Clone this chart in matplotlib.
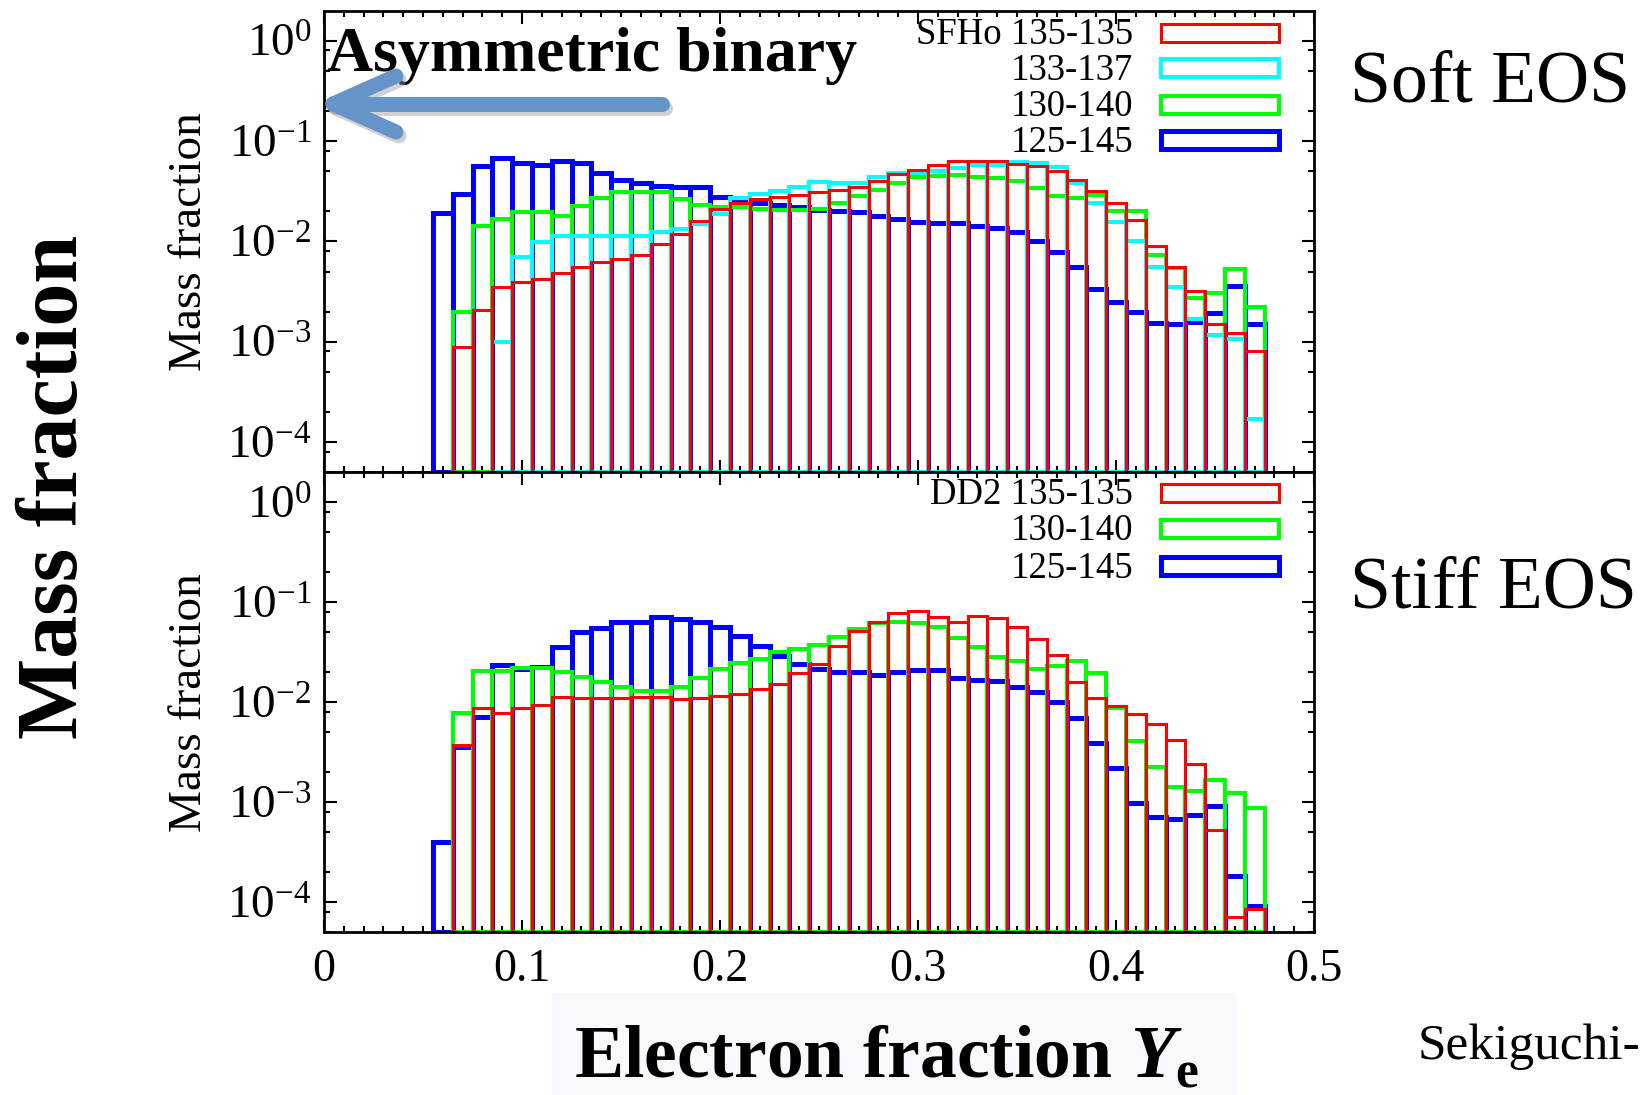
import matplotlib
matplotlib.use("Agg")
import matplotlib.pyplot as plt
from matplotlib import transforms as mtransforms
from matplotlib.patches import Rectangle
from matplotlib.lines import Line2D
from matplotlib.ticker import (FixedLocator, FixedFormatter, LogLocator,
                               NullFormatter, MultipleLocator)

# ---------------- data ----------------
ye_bins = [0.06, 0.07, 0.08, 0.09, 0.10, 0.11, 0.12, 0.13, 0.14, 0.15,
           0.16, 0.17, 0.18, 0.19, 0.20, 0.21, 0.22, 0.23, 0.24, 0.25,
           0.26, 0.27, 0.28, 0.29, 0.30, 0.31, 0.32, 0.33, 0.34, 0.35,
           0.36, 0.37, 0.38, 0.39, 0.40, 0.41, 0.42, 0.43, 0.44, 0.45,
           0.46, 0.47]

# SFHo (soft EOS)
sfho_125_145 = [0.0193, 0.030, 0.0563, 0.068, 0.060, 0.0577, 0.0637, 0.060, 0.0483, 0.0408,
                0.0379, 0.0356, 0.0345, 0.0345, 0.0279, 0.0254, 0.0239, 0.0229, 0.0221, 0.0208,
                0.0200, 0.0195, 0.0180, 0.0166, 0.0156, 0.0151, 0.0151, 0.0143, 0.0137, 0.0124,
                0.0100, 0.0078, 0.0055, 0.00334, 0.00247, 0.00199, 0.00154, 0.00149, 0.00156, 0.00194,
                0.00358, 0.00152]
sfho_130_140 = [None, 0.0020, 0.0142, 0.0166, 0.0197, 0.0198, 0.0179, 0.0225, 0.0272, 0.031,
                0.031, 0.031, 0.0264, 0.0229, 0.0218, 0.022, 0.021, 0.0205, 0.0205, 0.0212,
                0.0243, 0.0283, 0.0325, 0.0384, 0.0435, 0.0448, 0.0455, 0.044, 0.0424, 0.0402,
                0.0342, 0.0285, 0.0268, 0.029, 0.0202, 0.0203, 0.0073, 0.0054, 0.00274, 0.00307,
                0.0053, 0.0022]
sfho_133_137 = [None, None, None, 0.0010, 0.00703, 0.0099, 0.0113, 0.0112, 0.0112, 0.0113,
                0.0112, 0.0125, 0.0133, 0.0148, 0.0187, 0.0268, 0.0296, 0.0315, 0.035, 0.0387,
                0.0385, 0.0385, 0.044, 0.0476, 0.0476, 0.050, 0.0542, 0.0577, 0.058, 0.0613,
                0.060, 0.0547, 0.0379, 0.0239, 0.0157, 0.0101, 0.0055, 0.0035, 0.00168, 0.00117,
                0.00107, 0.000168]
sfho_135_135 = [None, 0.00088, 0.00207, 0.00348, 0.0039, 0.0042, 0.0048, 0.0056, 0.0062, 0.0067,
                0.0073, 0.0094, 0.0118, 0.016, 0.0211, 0.0243, 0.0262, 0.0279, 0.0292, 0.0308,
                0.0322, 0.035, 0.0402, 0.0466, 0.0514, 0.058, 0.0632, 0.0632, 0.0632, 0.059,
                0.056, 0.0502, 0.0408, 0.0318, 0.0239, 0.0163, 0.0091, 0.0055, 0.0032, 0.0015,
                0.00123, 0.0008]

# DD2 (stiff EOS)
dd2_125_145 = [0.000404, 0.00354, 0.00716, 0.0235, 0.0213, 0.0226, 0.0353, 0.0506, 0.0547, 0.0637,
               0.0637, 0.0715, 0.0673, 0.0628, 0.056, 0.0462, 0.0364, 0.0292, 0.0241, 0.0213,
               0.0198, 0.0198, 0.0187, 0.0198, 0.0211, 0.021, 0.0175, 0.0166, 0.0163, 0.0143,
               0.0125, 0.0100, 0.00695, 0.00388, 0.00217, 0.00099, 0.000713, 0.000676, 0.00074, 0.000924,
               0.000181, 0.000092]
dd2_130_140 = [None, 0.00774, 0.0205, 0.0205, 0.0218, 0.022, 0.0202, 0.0177, 0.0158, 0.0141,
               0.0129, 0.0129, 0.0143, 0.0173, 0.0213, 0.0245, 0.0268, 0.0315, 0.034, 0.0373,
               0.0451, 0.0535, 0.0614, 0.0628, 0.062, 0.056, 0.0441, 0.0353, 0.0285, 0.0258,
               0.0215, 0.0232, 0.0258, 0.0194, 0.0087, 0.00413, 0.00227, 0.00143, 0.00129, 0.00167,
               0.00123, 0.00087]
dd2_135_135 = [None, 0.00371, 0.00869, 0.00774, 0.0088, 0.0093, 0.0113, 0.011, 0.011, 0.011,
               0.0112, 0.0112, 0.0108, 0.011, 0.0115, 0.0121, 0.0136, 0.0152, 0.0197, 0.0241,
               0.0364, 0.0518, 0.0637, 0.0783, 0.0815, 0.0705, 0.0637, 0.0731, 0.0689, 0.056,
               0.0428, 0.0296, 0.0157, 0.0109, 0.0092, 0.0076, 0.00605, 0.00419, 0.00241, 0.000529,
               0.000071, 0.0000853]

sfho_labels = ["SFHo 135-135", "133-137", "130-140", "125-145"]
dd2_labels = ["DD2 135-135", "130-140", "125-145"]

xtick_vals = [0, 0.1, 0.2, 0.3, 0.4, 0.5]
xtick_labels = ["0", "0.1", "0.2", "0.3", "0.4", "0.5"]
ytick_vals = [1e0, 1e-1, 1e-2, 1e-3, 1e-4]
ytick_labels = [r"$10^{0}$", r"$10^{-1}$", r"$10^{-2}$", r"$10^{-3}$", r"$10^{-4}$"]

# ---------------- style ----------------
plt.rcParams["font.family"] = ["Liberation Serif", "DejaVu Serif"]
plt.rcParams["mathtext.fontset"] = "custom"
plt.rcParams["mathtext.rm"] = "Liberation Serif"
plt.rcParams["mathtext.it"] = "Liberation Serif:italic:bold"
plt.rcParams["mathtext.bf"] = "Liberation Serif:bold"

RED, CYAN, GREEN, BLUE = "#ff0000", "#00ffff", "#00ff00", "#0000ff"
LW = {BLUE: 3.6, GREEN: 2.9, CYAN: 2.9, RED: 2.2}
YMIN, YMAX = 5e-5, 1.98
BIN_W = 0.01

W, H = 1643, 1095
fig = plt.figure(figsize=(W / 100, H / 100), dpi=100)
PX = mtransforms.Affine2D().scale(1.0 / W, -1.0 / H).translate(0, 1) + fig.transFigure

L, R = 324, 1314
ax1 = fig.add_axes([L / W, 1 - 472.3 / H, (R - L) / W, 461.3 / H])
ax2 = fig.add_axes([L / W, 1 - 932.3 / H, (R - L) / W, 460.0 / H])


def draw_series(ax, vals, color, z):
    xs = [x for x, v in zip(ye_bins, vals) if v is not None]
    hs = [v - YMIN for v in vals if v is not None]
    ax.bar(xs, hs, width=BIN_W, bottom=YMIN, fill=False, edgecolor=color,
           linewidth=LW[color], zorder=z, align="center")


for ax in (ax1, ax2):
    ax.set_yscale("log")
    ax.set_xlim(0, 0.5)
    ax.set_ylim(YMIN, YMAX)
    ax.xaxis.set_major_locator(FixedLocator(xtick_vals))
    ax.xaxis.set_major_formatter(FixedFormatter(xtick_labels))
    ax.xaxis.set_minor_locator(MultipleLocator(0.01))
    ax.yaxis.set_major_locator(FixedLocator(ytick_vals))
    ax.yaxis.set_major_formatter(FixedFormatter(ytick_labels))
    ax.yaxis.set_minor_locator(LogLocator(base=10, subs=(2.0, 5.0, 8.0), numticks=20))
    ax.yaxis.set_minor_formatter(NullFormatter())
    ax.tick_params(which="both", direction="in", top=True, right=True, width=1.5, colors="black")
    ax.tick_params(which="major", length=9)
    ax.tick_params(which="minor", length=4.5)
    ax.tick_params(axis="y", which="major", labelsize=34, pad=9)
    ax.tick_params(axis="x", which="major", labelsize=33, pad=12)
    for sp in ax.spines.values():
        sp.set_linewidth(2.0)
        sp.set_zorder(10)
    ax.text(-0.136, 0.5, "Mass fraction", transform=ax.transAxes, rotation=90,
            ha="center", va="center", fontsize=34)

ax1.tick_params(axis="x", labelbottom=False)

# top panel: SFHo
draw_series(ax1, sfho_125_145, BLUE, 2)
draw_series(ax1, sfho_130_140, GREEN, 3)
draw_series(ax1, sfho_133_137, CYAN, 4)
draw_series(ax1, sfho_135_135, RED, 5)

# bottom panel: DD2
draw_series(ax2, dd2_125_145, BLUE, 2)
draw_series(ax2, dd2_130_140, GREEN, 3)
draw_series(ax2, dd2_135_135, RED, 5)

# ---------------- legends ----------------
def legend(rows_y, labels, colors):
    for yc, lab, col in zip(rows_y, labels, colors):
        fig.text(1133, yc + 11.5, lab, transform=PX, ha="right", va="baseline", fontsize=26.5)
        fig.add_artist(Rectangle((1161, yc - 9), 118, 18, transform=PX, fill=False,
                                 edgecolor=col, linewidth=LW[col]))


legend([33, 68, 105, 140], sfho_labels, [RED, CYAN, GREEN, BLUE])
legend([492.5, 529, 566], dd2_labels, [RED, GREEN, BLUE])

# ---------------- annotations ----------------
fig.text(327, 71, "Asymmetric binary", transform=PX, ha="left", va="baseline",
         fontsize=46, fontweight="bold")
fig.text(1350, 101, "Soft EOS", transform=PX, ha="left", va="baseline", fontsize=53)
fig.text(1350, 608, "Stiff EOS", transform=PX, ha="left", va="baseline", fontsize=53)
fig.text(57, 487, "Mass fraction", transform=PX, rotation=90, ha="center", va="center",
         fontsize=62, fontweight="bold")

fig.add_artist(Rectangle((552, 993), 685, 102, transform=PX, facecolor="#f7f9fc",
                         edgecolor="none", zorder=0))
fig.text(574, 1077, r"Electron fraction $Y_{\mathbf{e}}$", transform=PX, ha="left",
         va="baseline", fontsize=53, fontweight="bold", zorder=2)
fig.text(1418, 1059, "Sekiguchi-", transform=PX, ha="left", va="baseline", fontsize=37)

# arrow (with soft shadow)
ARROW_C = "#6595c8"
segs = [((662, 104), (340, 104)), ((333, 104), (396, 76)), ((333, 104), (396, 132))]
for dx, dy, col, a in ((3, 4, "#9a9a9a", 0.45), (0, 0, ARROW_C, 1.0)):
    for (x0, y0), (x1, y1) in segs:
        fig.add_artist(Line2D([x0 + dx, x1 + dx], [y0 + dy, y1 + dy], transform=PX,
                              color=col, alpha=a, linewidth=10.8,
                              solid_capstyle="round", zorder=20))

fig.savefig("out.png", dpi=100)
